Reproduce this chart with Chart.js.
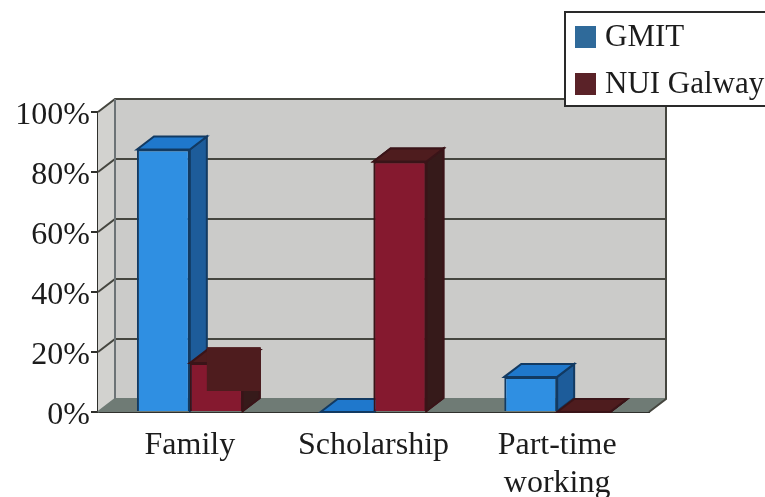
<!DOCTYPE html>
<html>
<head>
<meta charset="utf-8">
<style>
  html, body { margin: 0; padding: 0; background: #fff; }
  canvas { display: block; }
</style>
<script src="https://cdn.jsdelivr.net/npm/chart.js@4"></script>
</head>
<body>
<canvas id="chart" width="765" height="497"></canvas>
<script>
// Values
const categories = ["Family", "Scholarship", ["Part-time", "working"]];
const gmitValues = [87.5, 0, 11.7];
const nuiValues = [16.3, 83.5, 0];
const tickStep = 20;

// 3D look
const DEPTH_X = 17;
const DEPTH_Y = 13;
const FONT = '"Liberation Serif", serif';
const styles = [
  { label: "GMIT", front: "#2f8fe2", top: "#1f78cc", side: "#1d5c9a", edge: "#123a62", swatch: "#2f6a9a" },
  { label: "NUI Galway", front: "#85192f", top: "#4e1c1e", side: "#361a1a", edge: "#3a1418", swatch: "#5a2228" },
];

function poly(ctx, pts, fill, stroke) {
  ctx.beginPath();
  pts.forEach((p, i) => (i ? ctx.lineTo(p[0], p[1]) : ctx.moveTo(p[0], p[1])));
  ctx.closePath();
  ctx.fillStyle = fill;
  ctx.fill();
  if (stroke) {
    ctx.strokeStyle = stroke;
    ctx.lineWidth = 2;
    ctx.stroke();
  }
}

function drawFaces(chart, index) {
  const { ctx } = chart;
  const s = styles[index];
  chart.getDatasetMeta(index).data.forEach((bar) => {
    const l = bar.x - bar.width / 2;
    const r = bar.x + bar.width / 2;
    poly(ctx, [[r, bar.y], [r + DEPTH_X, bar.y - DEPTH_Y], [r + DEPTH_X, bar.base - DEPTH_Y], [r, bar.base]], s.side, s.edge);
    poly(ctx, [[l, bar.y], [l + DEPTH_X, bar.y - DEPTH_Y], [r + DEPTH_X, bar.y - DEPTH_Y], [r, bar.y]], s.top, s.edge);
  });
}

const box3d = {
  id: "box3d",
  // back wall, floor and gridlines
  beforeDatasetsDraw(chart) {
    const { ctx, chartArea: a, scales } = chart;
    ctx.save();
    poly(ctx, [[a.left + DEPTH_X, a.top - DEPTH_Y], [a.right + DEPTH_X, a.top - DEPTH_Y],
      [a.right + DEPTH_X, a.bottom - DEPTH_Y], [a.left + DEPTH_X, a.bottom - DEPTH_Y]], "#cbcbc9");
    poly(ctx, [[a.left, a.top], [a.left + DEPTH_X, a.top - DEPTH_Y],
      [a.left + DEPTH_X, a.bottom - DEPTH_Y], [a.left, a.bottom]], "#d2d2cf");
    poly(ctx, [[a.left, a.bottom], [a.right, a.bottom],
      [a.right + DEPTH_X, a.bottom - DEPTH_Y], [a.left + DEPTH_X, a.bottom - DEPTH_Y]], "#6f7b75");

    ctx.lineWidth = 2;
    scales.y.ticks.forEach((t) => {
      const y = scales.y.getPixelForValue(t.value);
      ctx.strokeStyle = t.value === 0 ? "#6f7b75" : "#45463f";
      ctx.beginPath();
      ctx.moveTo(a.left, y);
      ctx.lineTo(a.left + DEPTH_X, y - DEPTH_Y);
      ctx.lineTo(a.right + DEPTH_X, y - DEPTH_Y);
      ctx.stroke();
    });
    ctx.strokeStyle = "#6c7376";
    ctx.beginPath();
    ctx.moveTo(a.left + DEPTH_X, a.top - DEPTH_Y);
    ctx.lineTo(a.left + DEPTH_X, a.bottom - DEPTH_Y);
    ctx.stroke();
    ctx.strokeStyle = "#45463f";
    ctx.beginPath();
    ctx.moveTo(a.right + DEPTH_X, a.top - DEPTH_Y);
    ctx.lineTo(a.right + DEPTH_X, a.bottom - DEPTH_Y);
    ctx.lineTo(a.right, a.bottom);
    ctx.stroke();
    ctx.restore();
  },
  // top and side faces sit behind the front face of the same series
  beforeDatasetDraw(chart, args) {
    chart.ctx.save();
    drawFaces(chart, args.index);
    chart.ctx.restore();
  },
  // Chart.js paints the first dataset last, but NUI Galway stands in front of GMIT here
  afterDatasetDraw(chart, args) {
    if (args.index !== 0) return;
    const { ctx } = chart;
    ctx.save();
    drawFaces(chart, 1);
    chart.getDatasetMeta(1).data.forEach((bar) => bar.draw(ctx));
    ctx.restore();
  },
  afterDatasetsDraw(chart) {
    const { ctx } = chart;
    // the short NUI Galway bar shows its back face through the front
    const bar = chart.getDatasetMeta(1).data[0];
    const s = styles[1];
    const l = bar.x - bar.width / 2 + DEPTH_X;
    ctx.save();
    ctx.fillStyle = s.top;
    ctx.fillRect(l, bar.y - DEPTH_Y - 3, bar.width + 1, bar.base - bar.y - 4);

    // legend box, cut off by the right edge as in the original
    ctx.fillStyle = "#fff";
    ctx.fillRect(565, 12, 205, 94);
    ctx.strokeStyle = "#2a2a2a";
    ctx.lineWidth = 2;
    ctx.strokeRect(565, 12, 205, 94);
    ctx.font = "31px " + FONT;
    ctx.textBaseline = "middle";
    chart.data.datasets.forEach((d, i) => {
      const y = 37 + i * 47;
      ctx.fillStyle = styles[i].swatch;
      ctx.fillRect(575, y - 11, 21, 22);
      ctx.fillStyle = "#1c1c1c";
      ctx.fillText(d.label, 605, y + 1);
    });
    ctx.restore();
  },
};

new Chart(document.getElementById("chart"), {
  type: "bar",
  data: {
    labels: categories,
    datasets: [
      {
        label: styles[0].label,
        data: gmitValues,
        backgroundColor: styles[0].front,
        borderColor: styles[0].edge,
        borderWidth: 2,
      },
      {
        label: styles[1].label,
        data: nuiValues,
        backgroundColor: styles[1].front,
        borderColor: styles[1].edge,
        borderWidth: 2,
      },
    ],
  },
  plugins: [box3d],
  options: {
    responsive: false,
    animation: false,
    layout: { padding: { left: 0, right: 116, top: 112, bottom: 0 } },
    categoryPercentage: 0.576,
    barPercentage: 1,
    scales: {
      x: {
        grid: { display: false },
        border: { color: "#2f302c", width: 2 },
        ticks: { color: "#1c1c1c", font: { family: FONT, size: 32 }, padding: 6, maxRotation: 0, autoSkip: false },
        afterFit: (scale) => { scale.height = 85; },
      },
      y: {
        min: 0,
        max: 100,
        grid: { drawOnChartArea: false, color: "#2f302c", lineWidth: 2, tickLength: 7 },
        border: { color: "#2f302c", width: 2 },
        ticks: {
          stepSize: tickStep,
          color: "#1c1c1c",
          font: { family: FONT, size: 32 },
          padding: 1,
          labelOffset: 4,
          callback: (value) => value + "%",
        },
        afterFit: (scale) => { scale.width = 98; },
      },
    },
    plugins: {
      legend: { display: false },
      tooltip: { enabled: false },
    },
  },
});
</script>
</body>
</html>
